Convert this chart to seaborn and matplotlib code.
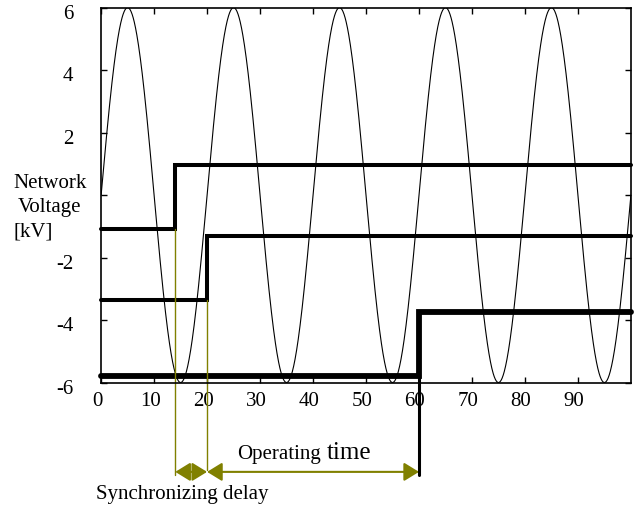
import numpy as np
import matplotlib.pyplot as plt
import matplotlib.transforms as mtransforms
import seaborn as sns

# ---- values ----
amplitude = 6.0          # kV, peak of network voltage
period = 20.0            # one cycle every 20 time units
t_end = 100

x_ticks = [0, 10, 20, 30, 40, 50, 60, 70, 80, 90]
y_ticks = [-6, -4, -2, 0, 2, 4, 6]
y_tick_labels = ['-6', '-4', '-2', '', '2', '4', '6']

# three breaker signals (step up at a given time)
step_times = [14, 20, 60]
step_low = [-1.1, -3.35, -5.8]
step_high = [0.95, -1.3, -3.75]
step_widths = [2.9, 2.9, 4.2]

olive = '#808000'
fs = 15

# ---- style ----
sns.set_style('ticks')
plt.rcParams['font.family'] = ['Liberation Serif', 'DejaVu Serif']
plt.rcParams['text.color'] = 'black'
plt.rcParams['xtick.direction'] = 'in'
plt.rcParams['ytick.direction'] = 'in'

fig = plt.figure(figsize=(6.36, 5.08), dpi=100)
ax = fig.add_axes([0.159, 0.247, 0.833, 0.738])

# sine wave
t = np.linspace(0, t_end, 2001)
v = amplitude * np.sin(2 * np.pi * t / period)
sns.lineplot(x=t, y=v, color='black', lw=0.8, ax=ax, estimator=None, sort=False)

# step lines
for ts, lo, hi, w in zip(step_times, step_low, step_high, step_widths):
    sns.lineplot(x=[0, ts, t_end], y=[lo, hi, hi], drawstyle='steps-post',
                 color='black', lw=w, ax=ax, estimator=None, sort=False,
                 clip_on=False, solid_capstyle='round', solid_joinstyle='miter')

# last breaker line continues below the axis to the arrow
arrow_y = -8.86
ax.plot([step_times[2], step_times[2]], [step_low[2], arrow_y - 0.1],
        color='black', lw=2.2, clip_on=False)

# olive markers from the first two steps down to the arrows
ax.plot([step_times[0]] * 2, [step_low[0], arrow_y - 0.1], color=olive, lw=1, clip_on=False)
ax.plot([step_times[1]] * 2, [step_low[1], arrow_y + 0.05], color=olive, lw=1, clip_on=False)

arrow_kw = dict(arrowstyle='<|-|>,head_length=0.65,head_width=0.4', color=olive,
                lw=1.5, mutation_scale=14, shrinkA=0, shrinkB=0)
ax.annotate('', xy=(step_times[0], arrow_y), xytext=(step_times[1], arrow_y),
            arrowprops=arrow_kw, annotation_clip=False)
ax.annotate('', xy=(step_times[1], arrow_y), xytext=(step_times[2], arrow_y),
            arrowprops=arrow_kw, annotation_clip=False)

ax.text(41.5, -8.3, 'Operating', fontsize=fs, ha='right', va='center')
ax.text(42.5, -8.25, 'time', fontsize=18, ha='left', va='center')
ax.text(15.3, -9.6, 'Synchronizing delay', fontsize=fs, ha='center', va='center')

# y axis title placed where the 0 tick label would be
fig.text(50 / 636, 1 - 183 / 508, 'Network', fontsize=fs, ha='center', va='center')
fig.text(50 / 636, 1 - 208 / 508, 'Voltage', fontsize=fs, ha='center', va='center')
fig.text(14 / 636, 1 - 232 / 508, '[kV]', fontsize=fs, ha='left', va='center')

ax.set_xlim(0, t_end)
ax.set_ylim(-6, 6)
ax.set_xticks(x_ticks)
ax.set_xticklabels([str(x) for x in x_ticks])
ax.set_yticks(y_ticks)
ax.set_yticklabels(y_tick_labels)
ax.tick_params(top=True, right=True, length=4, width=1, labelsize=fs, colors='black')
ax.tick_params(axis='x', pad=7)
ax.tick_params(axis='y', pad=20)
for s in ax.spines.values():
    s.set_linewidth(1.2)
    s.set_color('black')

# the reference labels sit a little off their ticks
for lab in ax.get_xticklabels():
    lab.set_transform(lab.get_transform() + mtransforms.ScaledTranslation(-0.04, 0, fig.dpi_scale_trans))
for lab in ax.get_yticklabels():
    lab.set_transform(lab.get_transform() + mtransforms.ScaledTranslation(0, -0.04, fig.dpi_scale_trans))

fig.savefig('out.png', dpi=100)
